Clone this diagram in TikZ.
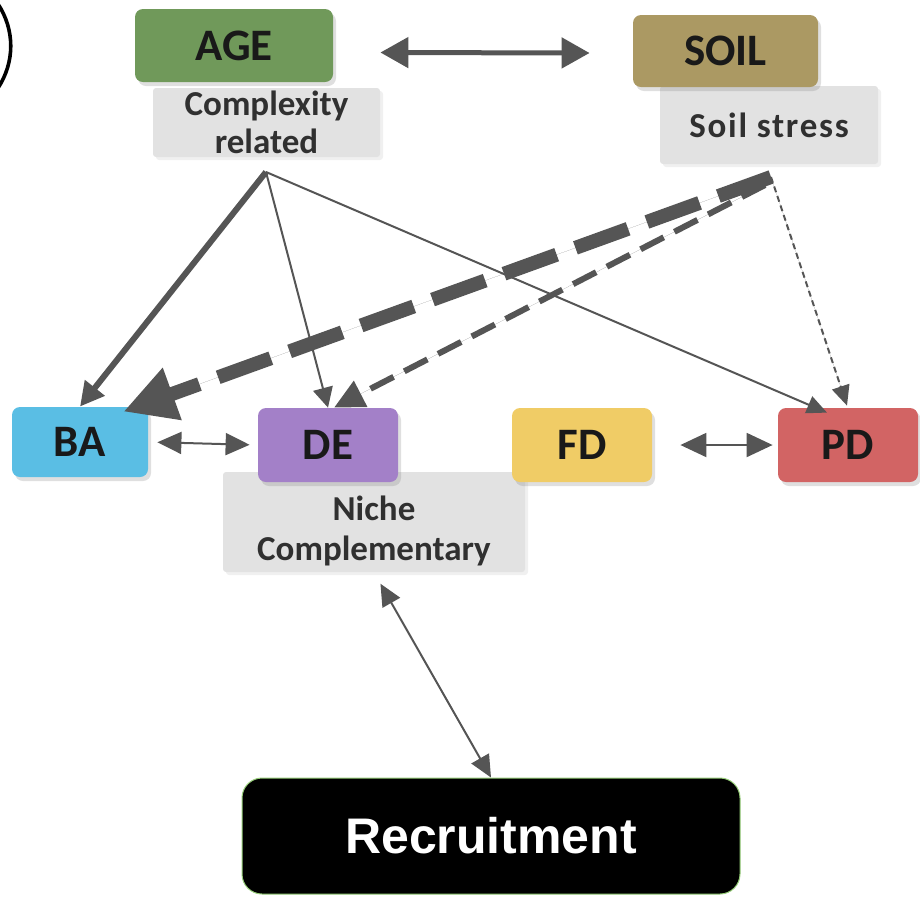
\documentclass[tikz,border=0pt]{standalone}
\usepackage{fontspec}
\setmainfont{Carlito}
\newfontfamily\arialfont{Liberation Sans}
\usetikzlibrary{arrows.meta,shadows,calc}
\definecolor{agegreen}{RGB}{112,153,90}
\definecolor{soilkhaki}{RGB}{171,153,99}
\definecolor{bablue}{RGB}{90,190,228}
\definecolor{depurple}{RGB}{163,128,200}
\definecolor{fdyellow}{RGB}{240,204,102}
\definecolor{pdred}{RGB}{210,100,100}
\definecolor{labgray}{RGB}{226,226,226}
\definecolor{arrowgray}{RGB}{85,85,85}
\definecolor{recgreen}{RGB}{150,205,120}
\definecolor{txt}{RGB}{25,25,25}
\begin{document}
\begin{tikzpicture}[x=0.5pt,y=-0.5pt,
  box/.style={rounded corners=4pt, inner sep=0pt, text=txt,
    font=\bfseries\fontsize{22.5}{26}\selectfont,
    drop shadow={shadow xshift=1.5pt,shadow yshift=-2pt,opacity=0.25}},
  lbl/.style={fill=labgray, inner sep=0pt, rounded corners=1.5pt, text=txt!90!white,
    font=\bfseries\fontsize{17.5}{19}\selectfont, align=center,
    drop shadow={shadow xshift=1.5pt,shadow yshift=-1.5pt,opacity=0.12}},
  conn/.style={draw=arrowgray, fill=arrowgray},
  thin/.style={conn, line width=1pt},
]
\useasboundingbox (0,0) rectangle (920,896);

% partial label ring at the left edge
\draw[line width=1.8pt] (-2,4) .. controls (15,30) and (15,62) .. (-2,88);

% grey annotation boxes
\node[lbl, minimum width=113.5pt, minimum height=34.5pt] (cplx) at (266.5,122.5) {Complexity\\related};
\node[lbl, minimum width=109pt, minimum height=39pt] (stress) at (769,125) {\addfontfeature{LetterSpace=5}Soil stress};
\node[lbl, minimum width=151pt, minimum height=50pt, align=left] (niche) at (374,522)
  {\parbox[c]{145pt}{\vspace*{9pt}\centering\fontsize{17.5}{20}\selectfont Niche\\Complementary}};

% coloured boxes
\node[box, fill=agegreen, minimum width=99pt, minimum height=36.5pt] (AGE) at (234,45.5) {AGE};
\node[box, fill=soilkhaki, minimum width=92.5pt, minimum height=36pt] (SOIL) at (725.5,51) {SOIL};
\node[box, fill=bablue, minimum width=68pt, minimum height=35pt] (BA) at (80,442) {BA};
\node[box, fill=depurple, minimum width=70pt, minimum height=37pt] (DE) at (328,445) {DE};
\node[box, fill=fdyellow, minimum width=70pt, minimum height=37pt] (FD) at (582,445) {FD};
\node[box, fill=pdred, minimum width=70pt, minimum height=37pt] (PD) at (848,445) {PD};
\node[fill=black, draw=recgreen, line width=0.5pt, rounded corners=10pt, inner sep=0pt,
  minimum width=249pt, minimum height=58pt, text=white,
  font=\arialfont\bfseries\fontsize{25}{28}\selectfont] (rec) at (491,836) {Recruitment};

\coordinate (ageapex) at (266,172);
\coordinate (soilapex) at (771,177);

% AGE <-> SOIL
\draw[conn, line width=2.5pt, {Triangle[length=14pt,width=15pt]}-{Triangle[length=14pt,width=15pt]}]
  ($(AGE.east)+(47,7)$) -- ($(SOIL.west)+(-43,2)$);

% AGE effects
\draw[conn, line width=3pt, -{Triangle[length=12pt,width=12pt]}] (ageapex) -- (BA.north);
\draw[thin, -{Triangle[length=10pt,width=10pt]}] (ageapex) -- (DE.north);
\draw[thin, -{Triangle[length=10pt,width=9pt]}] (ageapex) -- ($(PD.north)+(-21,5)$);

% SOIL effects
\draw[conn, line width=7pt, dash pattern=on 28pt off 10pt, -{Triangle[length=26pt,width=26pt]}]
  (soilapex) -- ($(BA.north east)+(-25,5)$);
\draw[conn, line width=3pt, dash pattern=on 13pt off 6pt, -{Triangle[length=15pt,width=14pt]}]
  ($(soilapex)+(-6,8)$) -- ($(DE.north)+(6,0)$);
\draw[thin, dash pattern=on 3pt off 2pt, -{Triangle[length=10pt,width=9pt]}]
  (soilapex) -- ($(PD.north)+(-1,-2)$);

% double arrows
\draw[thin, {Triangle[length=12pt,width=11pt]}-{Triangle[length=12pt,width=11pt]}, shorten <=4.5pt, shorten >=4pt]
  (BA.east) -- (DE.west);
\draw[thin, {Triangle[length=13pt,width=12pt]}-{Triangle[length=13pt,width=12pt]}, shorten <=14pt, shorten >=2.5pt]
  (FD.east) -- (PD.west);
\draw[thin, {Triangle[length=11pt,width=10pt]}-{Triangle[length=11pt,width=10pt]}, shorten <=6.5pt]
  (niche.south) -- (rec.north);
\end{tikzpicture}
\end{document}
